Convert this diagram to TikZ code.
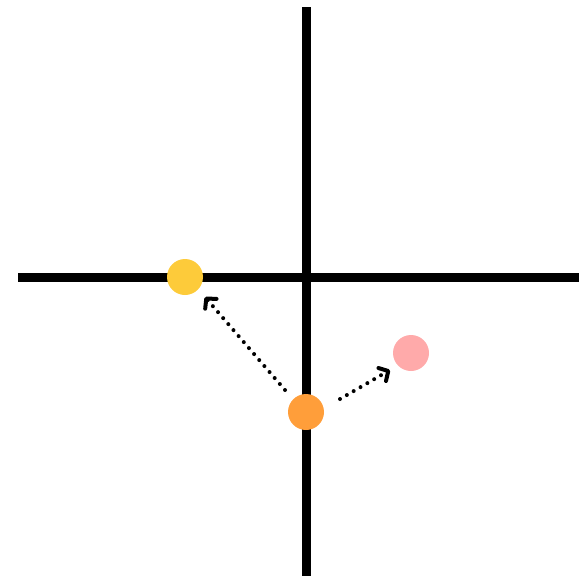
\documentclass[tikz,border=0pt]{standalone}
\usetikzlibrary{arrows.meta}
\definecolor{yel}{HTML}{FDCB3A}
\definecolor{org}{HTML}{FF9E3A}
\definecolor{pnk}{HTML}{FFAAAA}
\begin{document}
\begin{tikzpicture}[x=1pt,y=-1pt,
  axis/.style={line width=9pt},
  dot/.style={circle,inner sep=0pt,minimum size=36pt,draw=none},
  move/.style={line width=4pt,line cap=round,dash pattern=on 0pt off 7.9pt,
    -{Straight Barb[length=7pt,width=15pt,line width=4pt,line cap=round,line join=round]}}]
\useasboundingbox (0,0) rectangle (579,576);
\coordinate (vt) at (306,7);
\coordinate (vb) at (306,576);
\coordinate (hl) at (18,277);
\coordinate (hr) at (579,277);
\draw[axis] (vt) -- (vb);
\draw[axis] (hl) -- (hr);
\node[dot,fill=yel] (y) at (185,277) {};
\node[dot,fill=org] (o) at (306,412) {};
\node[dot,fill=pnk] (p) at (411,353) {};
\coordinate (s1) at (285,390);
\coordinate (e1) at (205,297);
\coordinate (s2) at (340,399);
\coordinate (e2) at (390,370);
\draw[move] (s1) -- (e1);
\draw[move] (s2) -- (e2);
\end{tikzpicture}
\end{document}
